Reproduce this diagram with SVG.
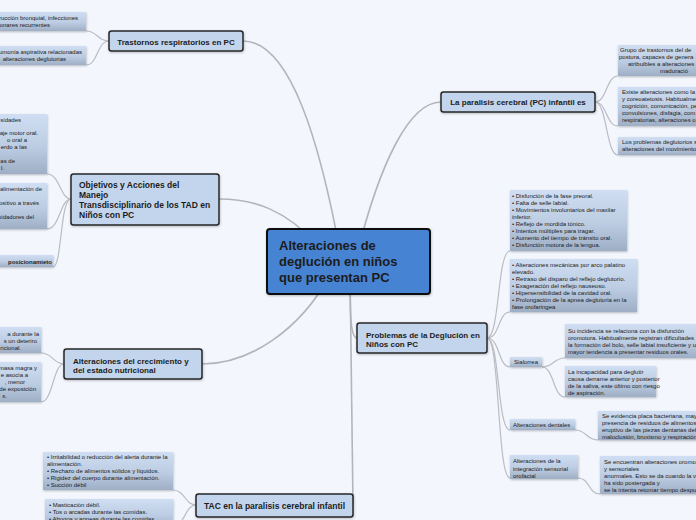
<svg xmlns="http://www.w3.org/2000/svg" width="696" height="520" viewBox="0 0 696 520">
<style>
.bg{fill:#f3f6fd}
.con{fill:none;stroke:#b9bcc2;stroke-width:1.2}
.conm{fill:none;stroke:#b3b5ba;stroke-width:1.6}
.main{fill:#c3d5ec;stroke:#262626;stroke-width:1.5}
.leaf{fill:url(#lg)}
.t{font-family:"Liberation Sans",Arial,sans-serif;fill:#1c1c1c}
.s{font-size:6px}
.b{font-weight:bold}
.m{font-size:8px;font-weight:bold}
.e{text-anchor:end}
.c{text-anchor:middle}
</style>
<defs>
<linearGradient id="lg" x1="0" y1="0" x2="0" y2="1">
<stop offset="0" stop-color="#cfdef2"/>
<stop offset="0.55" stop-color="#bccce2"/>
<stop offset="1" stop-color="#9eaec5"/>
</linearGradient>
<filter id="sh" x="-10%" y="-10%" width="120%" height="140%">
<feDropShadow dx="0.5" dy="1" stdDeviation="0.8" flood-color="#000" flood-opacity="0.25"/>
</filter>
</defs>
<rect class="bg" x="0" y="0" width="696" height="520"/>

<g id="connectors">
<path class="conm" d="M243,41 C290,41 320,140 342,262"/>
<path class="conm" d="M441,102 C410,102 380,160 355,262"/>
<path class="conm" d="M219,199 C255,199 285,210 318,245"/>
<path class="conm" d="M202,364 C250,364 300,330 330,275"/>
<path class="conm" d="M350,270 C350,310 350,338 357,338"/>
<path class="conm" d="M350,270 C351,380 353,450 353,505"/>
<path class="con" d="M109,41 C97,41 98,31 86,31"/>
<path class="con" d="M109,41 C97,41 98,65 86,65"/>
<path class="con" d="M71,199 C60,199 60,174 47,174"/>
<path class="con" d="M71,199 C60,199 60,229 47,229"/>
<path class="con" d="M71,199 C60,199 62,267 53,267"/>
<path class="con" d="M64,364 C53,364 53,353 41,353"/>
<path class="con" d="M64,364 C53,364 53,402 41,402"/>
<path class="con" d="M196,505 C185,505 185,490 173,490"/>
<path class="con" d="M196,505 C185,505 185,526 173,526"/>
<path class="con" d="M595,102 C607,102 606,76 618,76"/>
<path class="con" d="M595,102 C607,102 606,126 618,126"/>
<path class="con" d="M595,102 C607,102 606,155 618,155"/>
<path class="con" d="M487,338 C500,338 497,251 510,251"/>
<path class="con" d="M487,338 C500,338 498,312 510,312"/>
<path class="con" d="M487,338 C500,338 498,367 510,367"/>
<path class="con" d="M487,338 C500,338 497,430 510,430"/>
<path class="con" d="M487,338 C500,338 497,478 510,478"/>
<path class="con" d="M542,367 C554,367 553,358 565,358"/>
<path class="con" d="M542,367 C554,367 553,397 565,397"/>
<path class="con" d="M575,430 C587,430 586,440 598,440"/>
<path class="con" d="M578,478 C590,478 588,494 600,494"/>
</g>

<g id="central">
<rect x="267" y="229" width="163" height="65" rx="3" fill="#4683d3" stroke="#111" stroke-width="2" filter="url(#sh)"/>
<text class="t b" font-size="13" fill="#0d0d0d"><tspan x="279" y="250">Alteraciones de</tspan><tspan x="279" y="266">deglución en niños</tspan><tspan x="279" y="282">que presentan PC</tspan></text>
</g>

<g id="trastornos">
<rect class="main" x="109" y="31" width="134" height="20" rx="2.5" filter="url(#sh)"/>
<text class="t m c" x="176" y="44.5">Trastornos respiratorios en PC</text>
</g>
<g id="trastornos-l1">
<rect class="leaf" x="-5" y="12" width="91" height="19" filter="url(#sh)"/>
<text class="t s e" y="20"><tspan x="78">rucción bronquial, infecciones</tspan><tspan x="50" y="27">onares recurrentes</tspan></text>
</g>
<g id="trastornos-l2">
<rect class="leaf" x="-5" y="46" width="91" height="19" filter="url(#sh)"/>
<text class="t s e" y="54"><tspan x="82">umonía aspirativa relacionadas</tspan><tspan x="66" y="61">alteraciones deglutorias</tspan></text>
</g>

<g id="objetivos">
<rect class="main" x="71" y="174" width="148" height="51" rx="2.5" filter="url(#sh)"/>
<text class="t b" font-size="8.5"><tspan x="79" y="187.5">Objetivos y Acciones del</tspan><tspan x="79" y="197.5">Manejo</tspan><tspan x="79" y="207.5">Transdisciplinario de los TAD en</tspan><tspan x="79" y="217.5">Niños con PC</tspan></text>
</g>
<g id="objetivos-l1">
<rect class="leaf" x="-5" y="114" width="52" height="60" filter="url(#sh)"/>
<text class="t s e"><tspan x="21" y="122">sidades</tspan><tspan x="38" y="135">aje motor oral.</tspan><tspan x="27" y="142">o oral a</tspan><tspan x="27" y="149">erdo a las</tspan><tspan x="15" y="163">as de</tspan><tspan x="4" y="170">l.</tspan></text>
</g>
<g id="objetivos-l2">
<rect class="leaf" x="-5" y="183" width="52" height="46" filter="url(#sh)"/>
<text class="t s e"><tspan x="42" y="191">alimentación de</tspan><tspan x="39" y="205">ositivo a través</tspan><tspan x="34" y="219">sidadores del</tspan></text>
</g>
<g id="objetivos-l3">
<rect class="leaf" x="-5" y="255" width="58" height="12" filter="url(#sh)"/>
<text class="t s b e" x="52" y="264">posicionamieto</text>
</g>

<g id="crecimiento">
<rect class="main" x="64" y="349" width="138" height="30" rx="2.5" filter="url(#sh)"/>
<text class="t m"><tspan x="73" y="363.5">Alteraciones del crecimiento y</tspan><tspan x="73" y="372.5">del estado nutricional</tspan></text>
</g>
<g id="crecimiento-l1">
<rect class="leaf" x="-5" y="327" width="46" height="26" filter="url(#sh)"/>
<text class="t s e"><tspan x="39" y="336">a durante la</tspan><tspan x="37" y="343">s un deteriro</tspan><tspan x="21" y="350">ricional.</tspan></text>
</g>
<g id="crecimiento-l2">
<rect class="leaf" x="-5" y="362" width="46" height="40" filter="url(#sh)"/>
<text class="t s e"><tspan x="37" y="370">masa magra y</tspan><tspan x="28" y="377">e asocia a</tspan><tspan x="25" y="384">, menor</tspan><tspan x="36" y="391">de exposición</tspan><tspan x="7" y="398">s.</tspan></text>
</g>

<g id="tac">
<rect class="main" x="196" y="494" width="157" height="23" rx="2.5" filter="url(#sh)"/>
<text class="t b c" font-size="8.5" x="274.5" y="508.5">TAC en la paralisis cerebral infantil</text>
</g>
<g id="tac-l1">
<rect class="leaf" x="43" y="452" width="130" height="38" filter="url(#sh)"/>
<text class="t s"><tspan x="47" y="459">• Irritabilidad o reducción del alerta durante la</tspan><tspan x="47" y="466">alimentación.</tspan><tspan x="47" y="473">• Rechazo de alimentos sólidos y líquidos.</tspan><tspan x="47" y="480">• Rigidez del cuerpo durante alimentación.</tspan><tspan x="47" y="487">• Succión débil</tspan></text>
</g>
<g id="tac-l2">
<rect class="leaf" x="45" y="499" width="128" height="30" filter="url(#sh)"/>
<text class="t s"><tspan x="49" y="507">• Masticación débil.</tspan><tspan x="49" y="514">• Tos o arcadas durante las comidas.</tspan><tspan x="49" y="521">• Ahogos y apneas durante las comidas.</tspan></text>
</g>

<g id="paralisis">
<rect class="main" x="441" y="92" width="154" height="20" rx="2.5" filter="url(#sh)"/>
<text class="t m c" x="518" y="105">La paralisis cerebral (PC) infantil  es</text>
</g>
<g id="paralisis-l1">
<rect class="leaf" x="618" y="45" width="90" height="31" filter="url(#sh)"/>
<text class="t s"><tspan x="620" y="52">Grupo de trastornos del de</tspan><tspan x="619" y="59">postura, capaces de genera</tspan><tspan x="628" y="66">atribuibles a alteraciones</tspan><tspan x="660" y="73">maduració</tspan></text>
</g>
<g id="paralisis-l2">
<rect class="leaf" x="618" y="87" width="90" height="39" filter="url(#sh)"/>
<text class="t s"><tspan x="622" y="94">Existe alteraciones como la</tspan><tspan x="622" y="101">y coreoatetosis. Habitualme</tspan><tspan x="622" y="108">cognición, comunicación, pe</tspan><tspan x="622" y="115">convulsiones, disfagia, com</tspan><tspan x="622" y="122">respiratorias, alteraciones o</tspan></text>
</g>
<g id="paralisis-l3">
<rect class="leaf" x="618" y="137" width="90" height="18" filter="url(#sh)"/>
<text class="t s"><tspan x="622" y="144">Los problemas deglutorios s</tspan><tspan x="622" y="151">alteraciones del movimiento</tspan></text>
</g>

<g id="problemas">
<rect class="main" x="357" y="323" width="130" height="30" rx="2.5" filter="url(#sh)"/>
<text class="t m"><tspan x="366" y="337.5">Problemas de la Deglución en</tspan><tspan x="366" y="346.5">Niños con PC</tspan></text>
</g>
<g id="problemas-l1">
<rect class="leaf" x="510" y="190" width="117" height="61" filter="url(#sh)"/>
<text class="t s"><tspan x="512" y="198">• Disfunción de la fase preoral.</tspan><tspan x="512" y="205">• Falta de selle labial.</tspan><tspan x="512" y="212">• Movimientos involuntarios del maxilar</tspan><tspan x="512" y="219">inferior.</tspan><tspan x="512" y="226">• Reflejo de mordida tónico.</tspan><tspan x="512" y="233">• Intentos múltiples para tragar.</tspan><tspan x="512" y="240">• Aumento del tiempo de tránsito oral.</tspan><tspan x="512" y="247">• Disfunción motora de la lengua.</tspan></text>
</g>
<g id="problemas-l2">
<rect class="leaf" x="510" y="259" width="127" height="53" filter="url(#sh)"/>
<text class="t s"><tspan x="512" y="267">• Alteraciones mecánicas por arco palatino</tspan><tspan x="512" y="274">elevado.</tspan><tspan x="512" y="281">• Retraso del disparo del reflejo deglutorio.</tspan><tspan x="512" y="288">• Exageración del reflejo nauseoso.</tspan><tspan x="512" y="295">• Hipersensibilidad de la cavidad oral.</tspan><tspan x="512" y="302">• Prolongación de la apnea deglutoria en la</tspan><tspan x="512" y="309">fase orofaringea</tspan></text>
</g>
<g id="sialorrea">
<rect class="leaf" x="510" y="357" width="32" height="10" filter="url(#sh)"/>
<text class="t s c" x="526" y="364">Sialorrea</text>
</g>
<g id="sialorrea-l1">
<rect class="leaf" x="565" y="324" width="145" height="34" filter="url(#sh)"/>
<text class="t s"><tspan x="568" y="333">Su incidencia se relaciona  con la disfunción</tspan><tspan x="568" y="340">oromotora. Habitualmente registran dificultades</tspan><tspan x="568" y="347">la formación del bolo, selle labial insuficiente y u</tspan><tspan x="568" y="354">mayor tendencia a presentar residuos orales.</tspan></text>
</g>
<g id="sialorrea-l2">
<rect class="leaf" x="565" y="366" width="91" height="31" filter="url(#sh)"/>
<text class="t s"><tspan x="568" y="374">La incapacidad para deglutir</tspan><tspan x="568" y="381">causa derrame anterior y posterior</tspan><tspan x="568" y="388">de la saliva, este último con riesgo</tspan><tspan x="568" y="395">de aspiración.</tspan></text>
</g>
<g id="dentales">
<rect class="leaf" x="510" y="419" width="65" height="11" filter="url(#sh)"/>
<text class="t s" x="513" y="427">Alteraciones dentales</text>
</g>
<g id="dentales-l1">
<rect class="leaf" x="598" y="411" width="110" height="29" filter="url(#sh)"/>
<text class="t s"><tspan x="602" y="418">Se evidencia placa bacteriana, mayor</tspan><tspan x="602" y="425">presencia de residuos de alimentos, re</tspan><tspan x="602" y="432">eruptivo de las piezas dentarias definit</tspan><tspan x="602" y="439">maloclusión, bruxismo y respiración b</tspan></text>
</g>
<g id="integracion">
<rect class="leaf" x="510" y="455" width="68" height="24" filter="url(#sh)"/>
<text class="t s"><tspan x="513" y="463">Alteraciones de la</tspan><tspan x="513" y="470.5">integración sensorial</tspan><tspan x="513" y="478">orofacial</tspan></text>
</g>
<g id="integracion-l1">
<rect class="leaf" x="600" y="456" width="110" height="38" filter="url(#sh)"/>
<text class="t s"><tspan x="604" y="464">Se encuentran alteraciones oromo</tspan><tspan x="604" y="471">y sensoriales</tspan><tspan x="604" y="478">anormales. Esto se da cuando la v</tspan><tspan x="604" y="485">ha sido postergada y</tspan><tspan x="604" y="492">se la intenta retomar tiempo despu</tspan></text>
</g>
</svg>
